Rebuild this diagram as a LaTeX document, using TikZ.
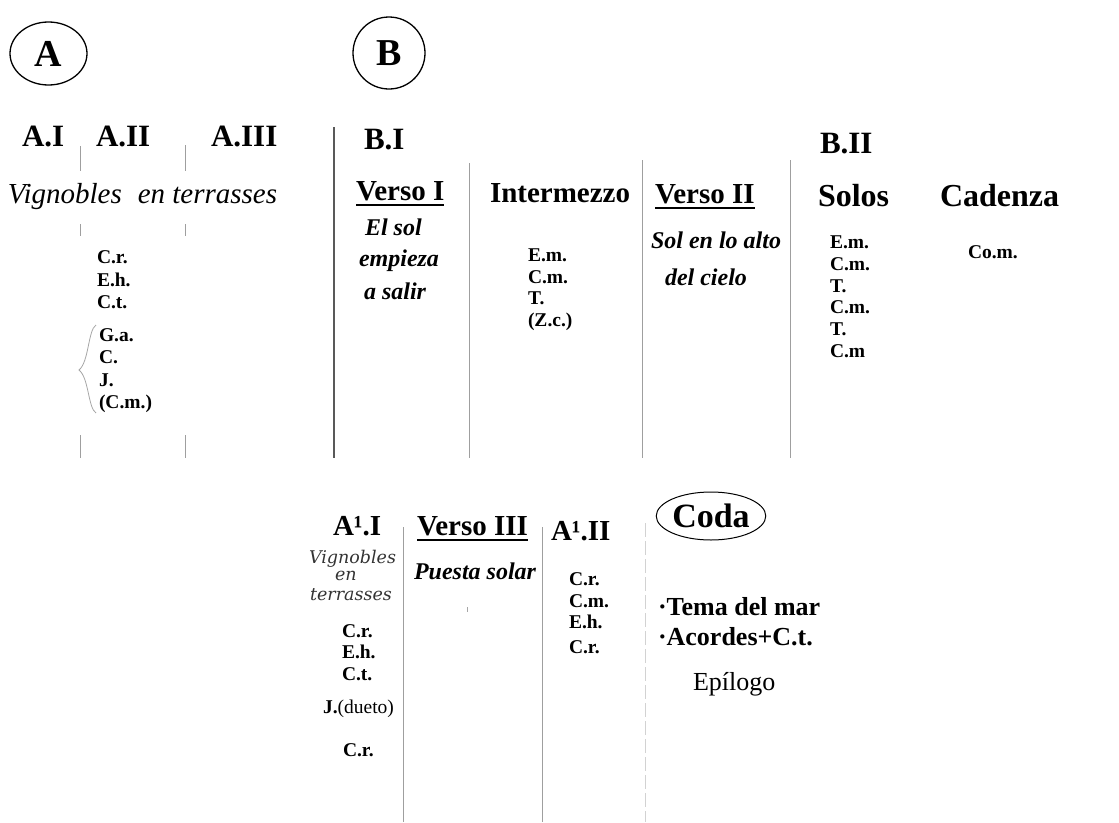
\documentclass[tikz,border=0pt]{standalone}
\usepackage{fontspec}
\setmainfont{Liberation Serif}
\newfontfamily\wideital{DejaVu Serif}
\usetikzlibrary{shapes.geometric}
\tikzset{
  txt/.style={anchor=base west, inner sep=0pt, outer sep=0pt},
  head/.style={txt, font=\bfseries\fontsize{31}{33}\selectfont},
  sub/.style={txt, font=\bfseries\fontsize{29}{31}\selectfont},
  big/.style={txt, font=\bfseries\fontsize{32}{34}\selectfont},
  lab/.style={txt, font=\bfseries\fontsize{19.5}{22}\selectfont},
  bit/.style={txt, font=\bfseries\itshape\fontsize{24}{26}\selectfont},
  smit/.style={txt, font=\wideital\itshape\fontsize{17.5}{19}\selectfont, text=black!80},
  sep/.style={draw=gray!75, line width=1pt},
  sepdark/.style={draw=black!65, line width=1.6pt},
  uline/.style={line width=1.6pt},
}
\begin{document}
\begin{tikzpicture}[x=1pt,y=-1pt]
\useasboundingbox (0,0) rectangle (1119,822);
% circles
\node[draw, ellipse, line width=1.3pt, minimum width=77pt, minimum height=63pt, inner sep=0pt] (cA) at (48.5,53.5) {\bfseries\fontsize{38}{40}\selectfont A};
\node[draw, circle, line width=1.3pt, minimum size=72pt, inner sep=0pt] (cB) at (389,53) {\bfseries\fontsize{38}{40}\selectfont B};
% Section A
\node[head] (ai) at (22,146) {A.I};
\node[head] (aii) at (96,146) {A.II};
\node[head] (aiii) at (211,146) {A.III};
\node[txt, font=\itshape\fontsize{29}{31}\selectfont] (vig) at (8,203) {Vignobles\hspace{0.3em} en terrasses};
\draw[sep] (80,146) -- (80,171);
\draw[sep] (185,145) -- (185,171);
\draw[sep] (80,224) -- (80,236);
\draw[sep] (185,224) -- (185,236);
\draw[sep] (80,435) -- (80,458);
\draw[sep] (185,435) -- (185,458);
\foreach \t/\y [count=\i] in {C.r./263, E.h./286, C.t./308}
  \node[lab] (al\i) at (97,\y) {\t};
\foreach \t/\y [count=\i] in {G.a./341, C./363, J./386, (C.m.)/408}
  \node[lab] (ag\i) at (99,\y) {\t};
\draw[draw=gray!70, line width=0.8pt] (96,325) .. controls (88,330) and (89,362) .. (79,370) .. controls (89,378) and (88,408) .. (96,413);
% Section B
\draw[sepdark] (334,127) -- (334,458);
\draw[sep] (469,163) -- (469,458);
\draw[sep] (642,160) -- (642,458);
\draw[sep] (790,160) -- (790,458);
\node[head] (bi) at (364,149) {B.I};
\node[sub] (v1) at (356,200) {Verso I};
\draw[uline] ([yshift=-5pt]v1.base west) -- ([yshift=-5pt]v1.base east);
\node[sub] (inter) at (490,202) {Intermezzo};
\node[sub] (v2) at (655,203) {Verso II};
\draw[uline] ([yshift=-5pt]v2.base west) -- ([yshift=-5pt]v2.base east);
\node[bit] (s1) at (365,235) {El sol};
\node[bit] (s2) at (359,266) {empieza};
\node[bit] (s3) at (364,299) {a salir};
\foreach \t/\y [count=\i] in {E.m./261, C.m./283, T./304, (Z.c.)/326}
  \node[lab] (im\i) at (528,\y) {\t};
\node[bit] (t1) at (651,248) {Sol en lo alto};
\node[bit] (t2) at (665,285) {del cielo};
\node[head] (bii) at (820,153) {B.II};
\node[big] (solos) at (818,206) {Solos};
\node[big] (cad) at (940,206) {Cadenza};
\foreach \t/\y [count=\i] in {E.m./248, C.m./270, T./292, C.m./313, T./335, C.m/357}
  \node[lab] (so\i) at (830,\y) {\t};
\node[lab] (com) at (968,258) {Co.m.};
% Bottom section
\draw[sep] (403,527) -- (403,822);
\draw[sep] (542,527) -- (542,822);
\draw[draw=gray!35, line width=1pt, dash pattern=on 14pt off 4pt] (645,523) -- (645,822);
\draw[draw=gray!70, line width=0.8pt] (467,607) -- (467,612);
\node[sub] (a1i) at (333,535) {A¹.I};
\node[sub] (v3) at (417,535) {Verso III};
\draw[uline] ([yshift=-5pt]v3.base west) -- ([yshift=-5pt]v3.base east);
\node[sub] (a1ii) at (551,540) {A¹.II};
\node[smit] (w1) at (309,563) {Vignobles};
\node[smit] (w2) at (335,580) {en};
\node[smit] (w3) at (310,600) {terrasses};
\node[bit] (ps) at (414,579) {Puesta solar};
\foreach \t/\y [count=\i] in {C.r./637, E.h./658, C.t./680}
  \node[lab] (bl\i) at (342,\y) {\t};
\node[lab] (jd) at (323,713) {J.\mdseries(dueto)};
\node[lab] (bl4) at (343,756) {C.r.};
\foreach \t/\y [count=\i] in {C.r./585, C.m./607, E.h./628, C.r./653}
  \node[lab] (cl\i) at (569,\y) {\t};
\node[draw, ellipse, line width=1pt, minimum width=108pt, minimum height=48pt, inner sep=0pt] (coda) at (711,516) {\bfseries\fontsize{34}{36}\selectfont Coda};
\node[txt, font=\bfseries\fontsize{26}{28}\selectfont] (tm) at (658,615) {·Tema del mar};
\node[txt, font=\bfseries\fontsize{26}{28}\selectfont] (ac) at (658,645) {·Acordes+C.t.};
\node[txt, font=\fontsize{26}{28}\selectfont] (ep) at (693,690) {Epílogo};
\end{tikzpicture}
\end{document}
